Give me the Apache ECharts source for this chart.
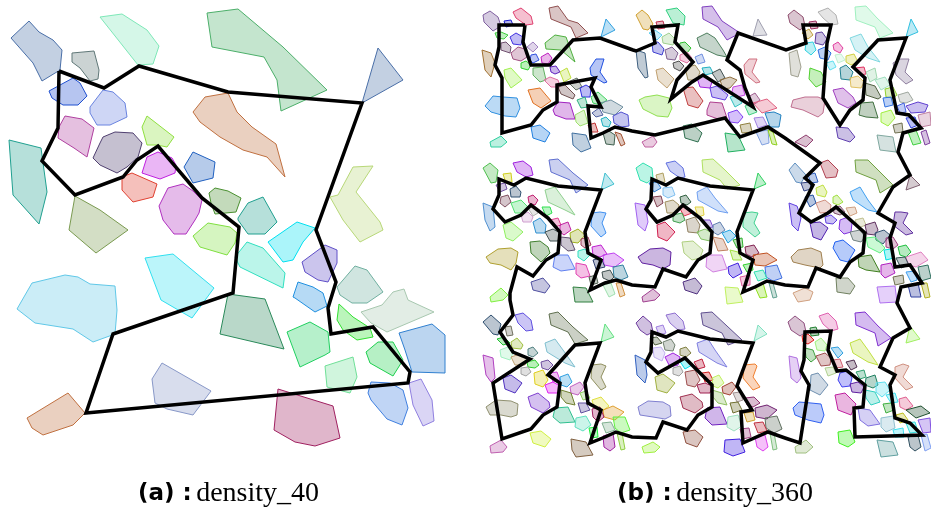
<!DOCTYPE html>
<html><head><meta charset="utf-8">
<script src="https://cdn.jsdelivr.net/npm/echarts@6/dist/echarts.min.js"></script>
<style>html,body{margin:0;padding:0;background:#fff}#c{width:931px;height:514px}</style>
</head><body><div id="c"></div>
<script>
// Panel (a): density_40 — polygons [colour, flat vertex list in canvas units]
const leftPolygons = [
['#4a6fa8',[11,38,29,21,39,32,53,40,62,50,60,70,42,81,33,63]],
['#7ee8b8',[100,17,122,14,147,30,159,46,153,64,138,65]],
['#4caf6a',[207,13,238,9,283,47,327,90,281,111,277,80,264,57,212,47]],
['#607878',[72,53,94,51,99,70,98,79,90,81,80,68,72,62]],
['#2050d0',[49,91,73,78,80,83,87,96,78,105,63,105,52,98]],
['#6a84e0',[90,107,103,90,113,92,125,103,127,117,110,125,97,125,90,113]],
['#4a6fa8',[378,48,403,80,362,103]],
['#b040a0',[65,116,82,119,94,128,87,157,74,148,58,138,59,127]],
['#504070',[103,137,115,132,133,133,142,143,138,157,127,167,117,173,100,165,93,158,100,143]],
['#90e040',[142,127,147,116,174,137,167,147,157,145,147,145]],
['#c07040',[193,112,205,97,228,93,237,112,252,127,276,144,285,177,267,157,243,150,220,137,200,122]],
['#20a090',[9,140,41,148,47,192,39,224,13,195]],
['#c020e0',[147,157,158,152,172,158,176,165,175,173,160,179,142,173]],
['#2060c0',[193,152,215,162,213,178,193,183,184,167]],
['#e04030',[122,177,132,173,157,184,153,197,133,202,122,190]],
['#7a9a50',[75,196,100,210,128,230,96,253,69,230]],
['#b030c0',[159,206,168,188,183,184,193,191,202,200,199,213,195,220,186,234,174,234,163,220]],
['#4a9030',[209,193,215,188,228,191,241,198,236,212,215,214,211,203]],
['#20a090',[238,218,248,203,263,197,277,222,265,234,248,234,238,220]],
['#00e0f0',[268,242,297,222,315,228,303,242,293,260,283,262]],
['#b8d878',[330,197,338,195,353,167,373,166,356,192,380,222,383,230,360,242,343,220]],
['#80e040',[193,236,208,223,230,227,237,233,235,243,227,255,200,247]],
['#60c8e8',[17,309,32,283,65,275,78,277,90,284,115,286,117,310,115,334,93,342,73,329,35,323]],
['#30e0f0',[145,258,173,254,214,288,192,318,161,300]],
['#30e0c0',[235,257,247,242,263,248,285,273,283,288,240,267]],
['#2a8a5a',[228,294,265,299,284,349,220,334]],
['#6050c8',[302,262,325,245,337,250,337,263,328,282,318,280,305,272]],
['#70b0a0',[337,287,355,266,367,270,383,292,367,303,352,303,340,295]],
['#2090e0',[293,297,298,282,313,287,323,293,327,306,315,312,295,298]],
['#a8c8b0',[361,312,382,305,393,292,404,289,408,300,434,312,387,332,371,323]],
['#30e030',[339,304,353,317,370,328,373,337,357,340,343,330,337,320]],
['#20d060',[287,332,310,322,328,332,330,352,325,355,300,367]],
['#20d050',[366,352,378,342,393,342,403,360,393,376,370,363]],
['#70e098',[325,366,353,357,357,377,350,393,327,387]],
['#3080d0',[399,333,432,324,445,335,445,373,412,372,405,350]],
['#4080e0',[368,393,371,382,390,383,403,390,408,408,402,425,387,419,371,400]],
['#9080e0',[409,383,421,379,432,400,434,421,423,426,413,405]],
['#8898c8',[152,379,162,363,211,391,193,415,167,409,155,403]],
['#a02060',[278,389,333,406,340,438,315,446,295,442,274,430]],
['#c07040',[27,418,68,393,85,413,73,425,43,435,32,428]]
];
const leftPath = [59,71,104,88,139,66,228,92,362,103,316,230,336,282,328,308,331,334,373,327,410,372,408,383,86,413,113,334,233,293,239,227,202,198,158,146,137,160,123,177,75,195,42,161,58,128,59,71];

// Panel (b): density_360
const rightPolygons = [
// tile row 1
['#8060a0',[483,15,490,11,498,17,501,26,493,31,484,22]],
['#e04070',[513,12,521,8,531,16,533,24,526,25,516,18]],
['#905050',[549,8,558,6,568,20,578,23,588,33,576,38,571,27,551,19]],
['#30a0e0',[606,19,615,30,601,37]],
['#2020d0',[504,21,511,20,513,25,506,27]],
['#40d040',[495,33,501,32,508,35,504,39,497,38]],
['#4030e0',[510,37,516,33,523,37,521,45,513,44]],
['#705070',[501,43,506,42,511,47,510,53,501,50]],
['#a080c0',[527,47,533,42,538,47,533,52]],
['#a05080',[511,53,518,47,525,49,527,57,521,61,513,59]],
['#50b040',[545,43,555,35,566,37,575,62,561,50,546,49]],
['#a07030',[482,50,491,53,495,63,491,77,485,70]],
['#c020c0',[541,57,548,53,552,58,548,64,542,63]],
['#3050e0',[531,55,536,54,539,60,533,63,530,60]],
['#30d030',[521,63,526,61,531,65,528,70,521,68]],
['#6020c0',[550,67,556,66,560,72,555,74,551,72]],
['#a0f050',[504,70,511,68,522,80,511,88,505,78]],
['#60b060',[533,68,543,67,546,80,540,82,533,75]],
['#c0e040',[560,72,567,68,571,78,564,82]],
['#e070a0',[544,80,550,77,558,80,560,87,551,87]],
['#2050e0',[590,68,596,59,604,59,600,72,607,82,604,83,591,75]],
['#607060',[568,82,577,78,582,87,576,90]],
['#705050',[558,87,565,85,575,95,573,99,561,94]],
['#3030e0',[580,88,586,85,591,88,590,97,582,97]],
['#40d060',[591,97,598,92,607,100,600,105,593,103]],
['#e07020',[528,90,540,88,551,101,541,108,533,103]],
['#30b080',[577,100,585,97,588,107,581,108]],
['#3090e0',[485,106,493,96,503,97,517,98,520,108,516,117,505,116,491,112]],
['#a020c0',[553,110,558,102,570,103,575,119,566,119,555,115]],
['#7090a0',[600,103,611,100,623,107,615,115,603,112]],
['#a0e070',[575,115,584,110,588,123,580,126,576,122]],
['#5060a0',[592,113,599,108,603,115,596,117]],
['#20b0c0',[601,119,606,117,611,122,609,127,603,126]],
['#5050d0',[613,116,621,112,628,115,629,126,621,127,614,123]],
['#c03030',[588,125,595,123,598,132,591,132]],
['#4070a0',[572,133,586,135,591,148,581,152,573,145]],
['#406050',[603,133,609,131,615,135,614,145,606,144]],
['#a05030',[615,132,621,134,625,144,621,146]],
['#2080e0',[531,127,540,125,550,133,545,142,533,138]],
['#30d0a0',[490,142,501,136,507,142,501,147,491,147]],
['#d0a030',[636,15,642,10,648,15,653,24,648,30,643,29]],
['#c03050',[656,22,663,21,665,28,658,29]],
['#30d080',[666,10,677,8,685,16,684,25,673,23]],
['#8040c0',[702,7,712,6,722,21,740,33,727,40,718,27,703,19]],
['#a0a0b0',[758,19,767,35,753,36]],
['#60d0f0',[649,33,655,30,662,35,657,40]],
['#a0d090',[662,37,669,33,675,39,673,45,663,43]],
['#30c030',[680,43,685,42,691,48,687,53,679,48]],
['#4040d0',[652,43,658,42,664,49,662,55,653,52]],
['#806090',[665,50,672,47,678,53,675,60,667,59]],
['#e070a0',[680,55,687,52,692,58,687,63,680,60]],
['#508060',[697,38,707,33,715,38,723,50,727,57,717,55,700,47]],
['#406080',[636,50,645,53,648,77,645,78,638,68]],
['#7090e0',[695,57,702,54,705,62,698,64]],
['#505050',[673,63,679,61,684,66,680,71,674,68]],
['#a09060',[685,68,695,65,700,72,697,80,688,80]],
['#20b0c0',[702,68,710,67,713,73,705,75]],
['#c0a070',[656,70,663,68,674,79,667,88,658,80]],
['#a020e0',[697,78,705,75,712,82,710,88,700,87]],
['#405050',[712,73,720,69,725,78,718,82]],
['#907040',[720,80,730,77,737,80,730,88,723,89]],
['#6040e0',[710,88,717,86,728,95,725,100,712,97]],
['#c040e0',[733,87,742,85,745,95,737,97,732,92]],
['#d07080',[744,65,749,59,757,59,752,72,760,82,756,83,745,74]],
['#a06090',[748,97,755,93,760,100,755,104,749,102]],
['#90e050',[639,100,645,97,657,95,669,98,672,108,668,117,657,116,643,109]],
['#c04040',[683,88,693,87,703,101,698,108,688,105]],
['#b04090',[707,110,710,102,722,103,727,118,718,119,707,115]],
['#30c0c0',[730,97,737,95,742,103,735,107]],
['#40d080',[745,106,752,103,757,112,749,115]],
['#e06080',[753,103,767,99,777,108,762,113]],
['#8040f0',[728,113,737,110,743,117,738,123,730,122]],
['#2080c0',[765,113,774,112,781,115,779,127,770,127]],
['#a080e0',[754,118,763,117,767,125,758,128]],
['#908040',[740,125,750,123,752,132,742,133]],
['#80a0e0',[756,132,768,130,769,143,762,145]],
['#90d020',[768,130,773,132,777,145,772,144]],
['#307050',[683,126,692,124,702,133,698,142,685,138]],
['#20b060',[725,133,738,135,745,150,728,152]],
['#c060a0',[642,142,653,136,657,142,653,147,645,147]],
['#905070',[788,15,794,10,803,17,805,26,800,30,790,23]],
['#a03060',[809,22,816,21,818,28,811,29]],
['#b0b0b0',[818,12,828,8,836,15,838,24,831,25,823,18]],
['#a0f0c0',[855,7,866,6,877,18,893,33,880,38,875,27,856,20]],
['#30c0e0',[911,19,918,32,906,37]],
['#c0a040',[802,33,809,29,813,35,808,39]],
['#6040a0',[816,33,822,32,827,39,823,45,815,43]],
['#30d0e0',[806,43,813,42,816,50,811,55,805,50]],
['#3070e0',[818,50,825,47,831,53,828,60,820,58]],
['#e040a0',[833,45,838,42,843,48,840,53,834,50]],
['#80d8e0',[850,38,861,34,868,47,880,62,868,58,855,50]],
['#a0a090',[789,53,797,50,801,67,798,77,791,75]],
['#60e0f0',[826,63,833,61,836,67,830,70]],
['#c0f0d0',[835,55,841,54,845,60,838,63]],
['#d0d040',[846,56,854,54,858,62,851,65,846,62]],
['#208090',[840,68,846,65,853,72,850,80,841,79]],
['#e03060',[855,68,864,67,866,74,860,75]],
['#9080a0',[893,63,900,59,909,59,905,72,913,80,906,84,896,75]],
['#a0d8b0',[866,72,875,68,877,78,870,82]],
['#e0c060',[850,78,858,76,864,82,861,88,851,87]],
['#a0e0c0',[875,80,885,77,890,85,881,90]],
['#506040',[865,83,875,86,881,97,878,99,866,95]],
['#90d030',[885,89,893,87,897,95,893,98,886,97]],
['#a0a8a0',[898,95,908,92,913,100,906,103,900,102]],
['#50d030',[810,68,821,72,826,82,816,87,809,79]],
['#a040c0',[833,90,843,88,853,97,856,103,848,108,838,103]],
['#c07090',[793,100,805,97,818,97,825,100,823,113,818,117,803,110,791,107]],
['#407040',[861,103,873,102,878,118,866,117,859,115]],
['#3070e0',[883,98,891,97,893,105,885,107]],
['#a0f040',[881,113,891,110,895,118,888,126,881,122]],
['#4060e0',[897,106,904,103,906,112,900,113]],
['#6040d0',[906,106,918,102,928,105,925,112,911,113]],
['#c080a0',[918,115,930,112,931,125,921,127]],
['#3040e0',[906,118,915,117,918,125,911,128]],
['#707050',[893,125,902,123,903,132,895,133]],
['#6040b0',[836,127,848,128,855,137,850,142,838,138]],
['#40d040',[908,132,916,130,921,143,913,145]],
['#8040a0',[921,132,926,130,930,143,925,145]],
['#80a8a0',[877,135,893,137,896,152,880,150]],
['#904070',[795,142,806,135,813,140,806,147]],
// tile row 2
['#50c050',[483,168,490,163,498,170,496,182,491,183]],
['#d0d020',[503,174,511,173,512,182,506,183]],
['#a020e0',[513,163,523,161,531,167,533,175,526,177,517,172]],
['#6070d0',[549,160,558,159,573,173,588,185,576,193,570,180,551,172]],
['#40c0d0',[605,173,614,184,601,190]],
['#7050a0',[496,185,505,183,507,189,500,192]],
['#305070',[510,189,516,186,521,192,520,197,511,197]],
['#805060',[501,197,508,195,511,202,505,207,500,203]],
['#c02070',[528,197,533,195,538,200,535,205,529,203]],
['#90d090',[545,190,555,187,563,198,575,215,565,210,548,202]],
['#50e070',[511,203,521,200,528,207,525,213,515,213]],
['#30e050',[542,207,550,207,552,213,546,216]],
['#d0a0d0',[521,215,528,212,533,217,531,222,523,222]],
['#b0b0b0',[528,208,535,207,538,213,533,216]],
['#5090d0',[483,203,493,207,495,227,490,231,485,220]],
['#3090d0',[533,222,540,218,546,225,545,233,536,233]],
['#e04090',[550,220,558,218,561,225,555,227]],
['#c020a0',[560,225,568,222,571,230,564,235,560,232]],
['#4090f0',[592,213,600,212,606,213,602,223,606,233,601,237,591,226]],
['#90f060',[503,225,511,222,523,232,513,241,506,238]],
['#405050',[545,232,553,229,560,233,558,241,550,241]],
['#a0b020',[570,233,578,229,585,235,578,243,571,242]],
['#605070',[561,237,570,238,575,250,568,251,561,245]],
['#a04060',[581,239,588,237,591,245,585,248,581,245]],
['#c020d0',[592,247,601,245,607,254,600,257,593,255]],
['#30e0c0',[578,251,585,249,590,255,584,261,578,257]],
['#c040f0',[603,255,614,253,624,260,615,267,604,265]],
['#304070',[593,260,601,258,605,267,596,269]],
['#b0a030',[486,257,498,249,511,248,518,252,516,263,511,270,501,265,490,263]],
['#408030',[530,242,540,241,548,247,550,253,541,262,531,253]],
['#6080f0',[555,255,568,255,575,269,561,271,553,267]],
['#e040b0',[576,263,586,265,590,276,581,278,576,274]],
['#3080a0',[613,267,623,265,628,277,621,280,614,277]],
['#405050',[602,272,610,270,614,277,610,281,603,278]],
['#506050',[589,277,596,275,598,283,591,285]],
['#d09040',[616,283,621,283,625,295,620,297]],
['#a0e0b0',[603,285,611,283,615,294,609,297]],
['#5050a0',[531,282,543,278,550,286,545,293,533,290]],
['#308040',[573,287,586,288,593,302,575,302]],
['#80f040',[490,297,501,288,508,295,503,300,491,302]],
['#30e0b0',[636,168,643,163,652,168,653,178,647,183,640,180]],
['#b0a060',[656,175,663,173,665,182,658,183]],
['#6070e0',[666,163,675,161,683,168,685,177,680,178,670,171]],
['#b0e060',[702,160,713,159,725,170,740,185,727,189,720,180,703,172]],
['#30d060',[758,173,766,184,754,189]],
['#3080d0',[649,183,657,182,661,188,654,192]],
['#80c0f0',[663,188,672,187,675,195,668,198,663,195]],
['#70a0f0',[697,192,707,187,715,198,728,213,718,211,698,200]],
['#804050',[653,197,661,196,663,203,657,207]],
['#306040',[680,197,686,195,691,202,687,205,681,203]],
['#a09060',[665,202,673,200,679,205,677,213,667,213]],
['#e03050',[679,207,687,207,692,213,684,216]],
['#e0d040',[695,207,703,207,704,215,698,217]],
['#40a050',[673,215,682,213,685,220,680,223,673,221]],
['#a060f0',[635,203,645,205,648,222,645,231,638,225]],
['#8050d0',[702,220,710,220,713,227,707,228]],
['#908060',[686,220,695,217,700,225,698,233,688,232]],
['#6080b0',[713,225,720,222,725,230,718,235,713,232]],
['#d02050',[657,225,665,222,675,232,667,241,658,237]],
['#80c060',[697,232,705,229,712,233,710,241,701,239]],
['#20a0e0',[722,233,730,230,736,236,728,243]],
['#c08060',[713,237,723,239,728,250,718,251]],
['#30b030',[733,240,742,238,743,247,737,248]],
['#40d090',[743,213,752,212,758,213,754,223,760,233,755,237,743,227]],
['#a0e040',[730,250,738,252,742,260,733,260]],
['#802050',[745,247,754,245,759,253,752,257,746,254]],
['#b0d080',[682,242,693,241,703,250,700,258,692,260,684,253]],
['#d080e0',[707,255,722,255,727,269,713,272,706,267]],
['#6020a0',[638,257,650,249,663,248,671,252,670,265,663,269,653,265,642,263]],
['#c05020',[753,255,767,253,777,260,765,266,755,265]],
['#4020e0',[728,267,738,263,742,273,733,278,729,274]],
['#e060a0',[740,277,750,275,750,285,742,286]],
['#4070e0',[765,267,777,265,782,278,773,281,766,277]],
['#30e0b0',[754,272,763,270,767,278,758,281]],
['#30d030',[743,265,752,263,753,270,747,272]],
['#90e020',[755,287,763,283,767,297,760,298]],
['#60a090',[769,283,773,283,777,297,773,298]],
['#c0f060',[725,287,738,288,743,302,727,304]],
['#503080',[683,282,695,278,702,286,697,294,685,290]],
['#a04090',[642,297,653,289,660,295,655,300,643,302]],
['#b04050',[820,163,828,160,838,170,836,177,826,178]],
['#6090c0',[789,170,795,163,806,175,801,183,796,182]],
['#70a040',[855,160,868,160,881,173,893,185,880,193,876,180,856,172]],
['#806070',[910,175,920,185,906,190]],
['#3060c0',[808,175,815,173,818,182,811,183]],
['#304080',[801,183,810,182,811,189,804,191]],
['#c0e040',[816,188,823,185,827,192,825,197,817,195]],
['#2050a0',[805,197,813,195,816,203,810,207]],
['#40a0f0',[850,192,860,187,868,200,877,212,868,210,853,200]],
['#a0e040',[833,197,837,195,843,202,838,205,833,203]],
['#d09080',[816,203,825,200,831,205,830,212,820,213]],
['#805070',[833,208,840,206,845,212,840,215,834,213]],
['#d0a080',[846,208,855,207,857,213,850,216]],
['#6040e0',[789,203,797,206,801,218,798,231,792,225]],
['#6040e0',[825,217,831,215,837,220,833,224,826,223]],
['#c0c090',[855,220,863,218,866,225,858,228]],
['#8030e0',[840,220,848,217,852,223,851,232,844,234,839,229]],
['#6030a0',[895,212,901,212,908,213,903,223,913,233,906,235,893,225]],
['#5020b0',[810,223,820,222,828,228,821,240,813,237]],
['#603060',[865,225,875,222,878,230,875,235,867,234]],
['#708080',[850,232,860,230,865,237,861,242,853,240]],
['#305070',[875,233,884,230,890,235,883,244,876,240]],
['#a04080',[886,238,893,237,898,245,893,249,886,247]],
['#60f080',[866,238,875,237,885,248,880,253,868,247]],
['#2060f0',[835,242,843,240,855,250,848,262,840,260,833,248]],
['#20c040',[898,247,906,245,911,252,906,257,900,255]],
['#00e0e0',[884,250,891,249,894,258,886,260]],
['#e080c0',[906,257,921,252,928,260,916,267,908,265]],
['#305050',[896,258,905,257,909,265,901,268]],
['#a08050',[791,257,798,250,811,248,821,252,823,265,820,268,805,265,793,262]],
['#408020',[858,257,871,255,880,272,866,270,859,267]],
['#b020c0',[881,265,891,263,895,273,885,278,881,274]],
['#307060',[918,267,928,265,931,278,921,281]],
['#40a0f0',[906,272,915,271,917,280,911,282]],
['#707050',[893,277,903,275,904,283,895,285]],
['#708060',[836,278,848,278,855,286,850,294,837,292]],
['#b070f0',[877,287,895,286,897,302,880,303]],
['#3040a0',[908,285,918,283,921,297,911,297]],
['#b0b020',[921,283,927,283,930,297,925,298]],
['#d0a080',[793,293,805,288,813,292,810,300,798,302]],
// tile row 3
['#305070',[483,322,491,315,501,324,498,335,493,334]],
['#6050e0',[515,315,523,313,531,320,533,330,526,331,518,323]],
['#607050',[549,314,558,312,573,327,588,340,575,344,568,332,551,325]],
['#60e080',[605,324,614,337,601,342]],
['#707060',[505,327,511,326,513,335,507,336]],
['#20c030',[497,339,504,337,510,343,503,345]],
['#a0c040',[511,342,517,338,523,345,521,349,512,348]],
['#a0f0c0',[500,350,508,347,513,353,510,360,501,357]],
['#80c0d0',[545,343,555,339,563,350,575,367,565,363,547,352]],
['#508080',[528,349,533,347,538,353,533,357,528,355]],
['#c0a070',[511,357,520,354,528,358,525,365,515,365]],
['#30d030',[527,362,535,360,539,365,535,368,528,367]],
['#a0a0a0',[521,368,528,367,531,372,526,376,521,374]],
['#7050a0',[541,362,548,360,553,365,548,370,542,368]],
['#b040c0',[483,355,493,358,495,378,491,382,486,375]],
['#e0d020',[534,373,543,370,548,380,543,387,535,384]],
['#d040e0',[550,373,557,372,560,380,553,382]],
['#30a0e0',[560,377,568,374,572,382,567,387,561,385]],
['#e020f0',[545,385,553,382,560,386,558,393,548,393]],
['#909060',[592,365,601,364,606,366,601,377,606,387,601,390,591,378]],
['#5030c0',[503,378,511,375,522,383,515,393,505,389]],
['#c060c0',[570,387,580,382,584,387,578,395,571,393]],
['#708030',[561,390,571,393,575,405,566,403,561,397]],
['#90d060',[580,393,586,391,590,398,583,400]],
['#909070',[486,407,496,400,511,401,518,404,517,415,511,417,501,415,490,415]],
['#8040d0',[528,397,538,393,549,402,550,407,543,413,531,407]],
['#6050a0',[578,403,586,403,590,410,581,413]],
['#e0e040',[592,400,601,397,609,406,601,412,594,407]],
['#e0a030',[603,410,613,406,624,412,615,420,604,417]],
['#a02060',[592,409,600,407,604,417,598,422,593,417]],
['#30c090',[555,408,568,407,575,422,560,423,553,417]],
['#60e0c0',[576,418,586,416,591,425,583,431,575,427]],
['#60f040',[613,417,625,417,630,430,621,433,615,428]],
['#80b090',[602,423,611,422,615,430,606,433]],
['#20f040',[589,428,597,427,598,437,591,438]],
['#a020a0',[603,436,613,433,615,447,610,451,604,447]],
['#90d040',[617,433,622,433,625,449,621,450]],
['#d0f040',[530,433,541,431,551,439,545,447,533,443]],
['#806040',[571,439,586,442,593,455,576,457,572,450]],
['#c060b0',[490,446,501,440,507,447,503,452,491,453]],
['#7040a0',[636,323,643,316,651,323,653,332,647,335,640,330]],
['#a080e0',[656,327,663,325,666,333,659,335]],
['#9070d0',[666,315,675,313,683,321,685,329,678,330,670,323]],
['#605090',[701,313,712,312,727,326,742,340,728,345,722,333,703,325]],
['#80e0c0',[758,325,767,334,754,341]],
['#506040',[650,338,657,337,662,343,655,345]],
['#708070',[663,342,671,339,675,345,673,351,665,350]],
['#c0b0f0',[653,348,661,347,665,353,662,361,654,357]],
['#8080e0',[697,343,708,339,715,350,727,367,717,363,699,352]],
['#808040',[680,349,686,347,691,353,686,357,680,355]],
['#a020e0',[665,357,673,353,680,357,678,365,670,367]],
['#00e0f0',[679,360,687,359,692,365,685,369]],
['#a0a0a0',[673,368,680,366,683,372,679,376,673,374]],
['#3060c0',[635,355,645,360,647,375,645,383,637,375]],
['#c02040',[694,362,702,359,705,367,698,369]],
['#a05050',[685,372,695,370,700,380,695,387,687,385]],
['#d02020',[702,373,709,372,713,380,705,382]],
['#a0b040',[655,377,663,374,675,383,667,393,657,390]],
['#c0f060',[712,378,719,375,724,383,718,388,713,386]],
['#a02050',[697,385,705,383,712,386,710,393,700,393]],
['#f08030',[744,365,755,364,757,366,753,377,760,387,753,390,743,378]],
['#a04030',[722,387,732,382,736,387,730,395,723,393]],
['#90c060',[712,390,722,393,727,405,718,403,713,397]],
['#a09090',[733,393,740,392,743,400,737,402]],
['#903070',[745,398,754,397,760,403,753,407,747,405]],
['#8080d0',[638,407,648,401,663,402,670,406,671,416,665,419,653,417,640,415]],
['#a03050',[680,397,692,394,702,402,703,407,695,413,683,408]],
['#707030',[730,403,738,402,742,410,733,413]],
['#702070',[755,408,767,405,777,410,767,419,756,417]],
['#7020c0',[707,408,720,407,727,424,712,425,705,418]],
['#a0e0c0',[728,417,738,415,742,426,734,431,727,427]],
['#d0a030',[744,413,753,412,755,420,747,422]],
['#607060',[765,418,777,416,782,429,774,433,766,428]],
['#c03040',[754,423,763,422,767,431,758,433]],
['#a04080',[740,429,749,428,751,437,743,439]],
['#e040f0',[755,437,765,435,768,447,763,451,757,447]],
['#80c080',[770,433,774,433,777,449,773,450]],
['#905040',[683,432,695,430,703,437,697,447,686,443]],
['#4020e0',[725,440,740,439,745,452,733,456,724,452]],
['#a0f040',[642,447,653,442,660,447,655,452,644,453]],
['#905080',[788,322,795,316,804,323,806,332,800,336,791,330]],
['#208030',[810,328,816,327,819,335,811,336]],
['#e060b0',[819,316,828,313,836,321,838,329,831,331,823,324]],
['#8030d0',[855,313,865,312,878,326,891,338,878,346,875,333,856,325]],
['#a0f060',[910,326,920,339,906,343]],
['#e02020',[802,336,808,334,814,340,808,344,803,342]],
['#a0f080',[815,342,821,338,827,345,825,351,817,350]],
['#40a040',[805,348,813,350,816,358,811,362,806,357]],
['#30a0e0',[831,348,838,347,843,353,838,358]],
['#c0e040',[850,343,860,339,868,350,878,365,868,362,853,353]],
['#a05050',[816,356,825,353,831,358,830,365,821,366]],
['#d06070',[833,360,840,359,843,367,836,368]],
['#503050',[846,362,854,360,857,367,851,370]],
['#b0d090',[825,368,833,367,836,373,828,376]],
['#b070e0',[789,356,797,358,801,378,797,383,791,378]],
['#30a070',[856,372,864,370,866,377,860,379]],
['#4040f0',[840,373,848,371,852,378,850,386,842,387,838,380]],
['#d09080',[895,367,903,364,909,366,903,377,913,387,906,390,895,378]],
['#208060',[866,378,875,375,878,385,873,388,865,385]],
['#6020a0',[850,384,858,382,864,387,861,393,852,392]],
['#60e0f0',[876,383,885,382,890,390,882,397,876,392]],
['#7090b0',[811,375,818,373,828,385,820,395,810,390]],
['#30d0c0',[865,390,875,392,880,402,871,405,866,398]],
['#40e0f0',[886,395,895,393,898,402,891,403]],
['#40b040',[883,404,891,403,894,410,886,413]],
['#e06090',[899,399,906,397,913,406,906,410,900,407]],
['#c020a0',[835,395,845,393,856,404,851,415,838,410]],
['#3060f0',[793,408,799,402,811,403,821,404,824,415,821,423,808,420,795,415]],
['#205030',[906,410,921,406,930,413,916,418]],
['#c0c020',[896,415,903,413,908,420,900,423]],
['#8070e0',[858,408,870,410,880,424,868,426,860,420]],
['#90c0d0',[881,418,893,416,895,428,886,432,881,427]],
['#30e0e0',[906,423,915,422,918,432,910,433]],
['#8050e0',[918,420,930,418,931,432,923,433]],
['#40e0f0',[893,430,903,428,904,437,895,437]],
['#305060',[908,437,918,435,921,447,915,451,910,447]],
['#80a0f0',[921,435,927,434,931,448,925,451]],
['#40f020',[838,432,850,430,855,442,848,447,839,443]],
['#60a0a0',[877,440,893,442,898,455,881,457]],
['#a0c080',[795,447,806,440,813,447,806,453,796,453]]
];
const rightPath = [525,25,523,42,531,65,550,65,573,40,600,38,633,50,636,51,655,43,652,27,678,25,675,42,693,62,677,80,671,99,692,82,703,75,753,107,745,88,740,70,727,60,738,33,786,50,806,43,803,25,831,25,827,43,823,98,840,125,850,110,863,100,865,78,853,67,878,40,906,38,890,80,897,113,909,115,921,128,903,133,898,152,910,175,893,187,878,213,895,223,890,238,895,267,910,265,922,283,901,287,897,303,910,328,893,338,880,367,895,375,890,385,895,418,910,423,922,435,855,437,854,408,863,407,865,385,846,370,837,371,828,350,831,331,805,332,804,360,801,371,809,385,800,443,785,438,768,432,743,443,741,412,752,410,737,386,753,343,710,339,678,331,666,337,652,332,651,352,646,362,658,373,685,358,712,385,712,407,698,415,687,430,663,422,656,438,632,437,616,432,605,437,590,443,601,410,588,403,585,383,600,343,575,345,548,375,560,383,557,407,543,415,531,429,502,439,493,383,530,359,513,352,500,332,513,315,510,300,510,293,517,267,533,276,546,260,558,253,560,232,548,218,531,205,521,215,505,222,493,209,499,195,499,179,514,185,526,178,558,186,601,190,585,232,588,253,601,260,590,290,605,283,616,280,632,285,655,287,663,269,686,277,698,260,710,253,712,232,700,218,683,205,673,215,657,222,646,209,651,200,652,179,666,185,678,178,710,186,753,190,737,232,740,253,753,260,743,292,755,287,767,281,785,285,808,287,816,268,840,277,850,262,863,253,865,233,836,207,828,213,811,222,799,213,813,185,805,178,820,163,806,153,785,138,768,127,740,137,725,118,655,135,632,131,615,127,603,133,591,138,588,106,601,107,591,87,595,78,557,85,557,102,543,110,531,125,502,133,502,78,495,65,499,47,499,25,525,25];

const captionLabels = ['(a) :', '(b) :'];
const captionNames = ['density_40', 'density_360'];

function rgba(hex, a){
  const n = parseInt(hex.slice(1),16);
  return 'rgba('+((n>>16)&255)+','+((n>>8)&255)+','+(n&255)+','+a+')';
}
function toPairs(flat){ const out=[]; for(let i=0;i<flat.length;i+=2) out.push([flat[i],flat[i+1]]); return out; }
function polySeries(list){
  return {
    type:'custom', coordinateSystem:'cartesian2d', clip:false, silent:true,
    data: list.map(p=>[p[1][0],p[1][1]]),
    renderItem:(params, api)=>{
      const p = list[params.dataIndex];
      const pts = toPairs(p[1]).map(v=>api.coord(v));
      return {type:'polygon', shape:{points:pts},
        style:{fill:rgba(p[0],0.33), stroke:p[0], lineWidth:1}};
    }
  };
}
function pathSeries(flat){
  return {type:'line', data: toPairs(flat), symbol:'none', silent:true,
    lineStyle:{color:'#000', width:3.5, join:'miter', cap:'butt'}, z:5};
}

const chart = echarts.init(document.getElementById('c'));
chart.setOption({
  animation:false,
  backgroundColor:'#fff',
  grid:{left:0, top:0, right:0, bottom:0},
  xAxis:{type:'value', min:0, max:931, show:false},
  yAxis:{type:'value', min:0, max:514, inverse:true, show:false},
  title: captionLabels.map((lab,i)=>({
    text:'{a|'+lab+'}{s| }{b|'+captionNames[i]+'}',
    left: i===0 ? 133 : 612, top: 475,
    textStyle:{fontWeight:'normal', rich:{
      a:{fontFamily:'DejaVu Sans', fontWeight:'bold', fontSize:23, color:'#000'},
      s:{fontSize:16},
      b:{fontFamily:'Liberation Serif', fontWeight:'normal', fontSize:28, color:'#000'}
    }}
  })),
  series:[
    polySeries(leftPolygons), pathSeries(leftPath),
    polySeries(rightPolygons), pathSeries(rightPath)
  ]
});
</script>
</body></html>
